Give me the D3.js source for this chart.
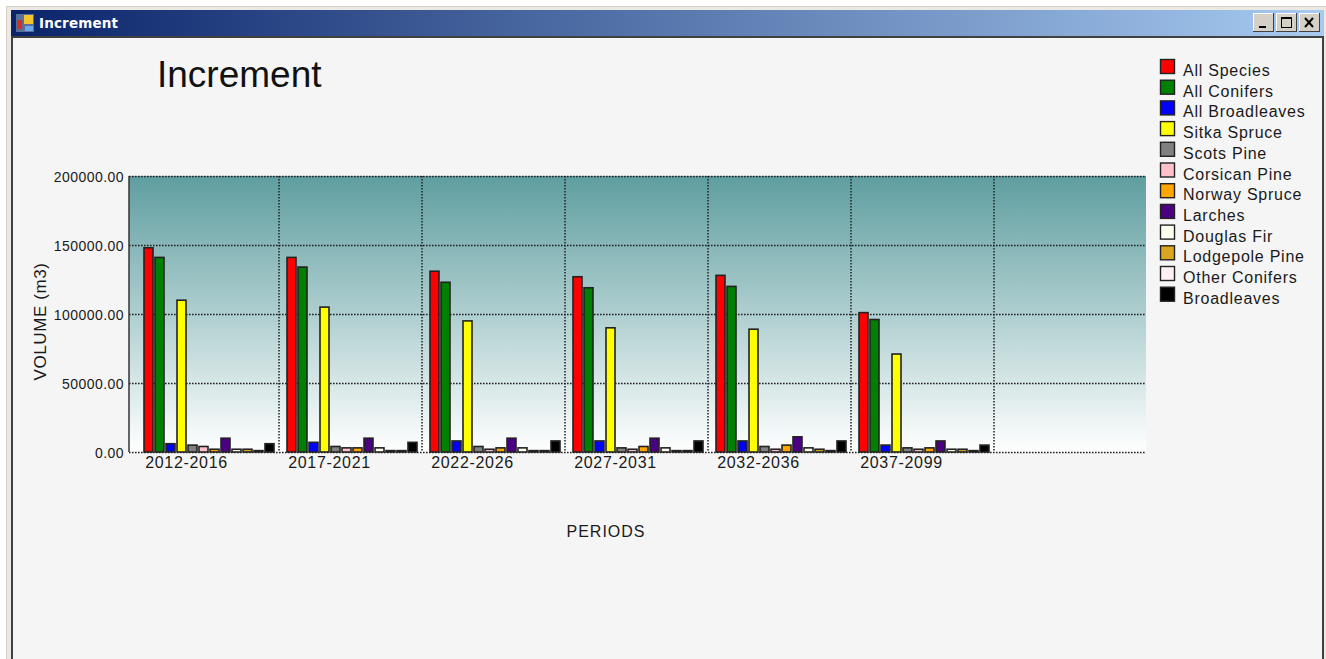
<!DOCTYPE html>
<html><head><meta charset="utf-8">
<script src="https://cdn.jsdelivr.net/npm/d3@7/dist/d3.min.js"></script>
<style>html,body{margin:0;padding:0;background:#fff;overflow:hidden}svg{display:block}
text{font-family:"Liberation Sans",Arial,sans-serif;fill:#1a1a1a}</style></head>
<body><svg id="c" width="1326" height="659"></svg>
<script>
const periods=["2012-2016","2017-2021","2022-2026","2027-2031","2032-2036","2037-2099"];
const speciesNames=["All Species","All Conifers","All Broadleaves","Sitka Spruce","Scots Pine","Corsican Pine","Norway Spruce","Larches","Douglas Fir","Lodgepole Pine","Other Conifers","Broadleaves"];
const speciesColors=["#ff0000","#008000","#0000ff","#ffff00","#808080","#ffc0cb","#ffa500","#4b0082","#fffff0","#daa520","#fff0f5","#000000"];
const vol2012=[148000,141000,6000,110000,5000,4000,2000,10000,2000,2000,1000,6000];
const vol2017=[141000,134000,7000,105000,4000,3000,3000,10000,3000,1000,1000,7000];
const vol2022=[131000,123000,8000,95000,4000,2000,3000,10000,3000,1000,1000,8000];
const vol2027=[127000,119000,8000,90000,3000,2000,4000,10000,3000,1000,1000,8000];
const vol2032=[128000,120000,8000,89000,4000,2000,5000,11000,3000,2000,1000,8000];
const vol2037=[101000,96000,5000,71000,3000,2000,3000,8000,2000,2000,1000,5000];
const volumes=[vol2012,vol2017,vol2022,vol2027,vol2032,vol2037];
const yTicks=[0,50000,100000,150000,200000];

const svg=d3.select("#c");
const defs=svg.append("defs");
const tg=defs.append("linearGradient").attr("id","tbar");
tg.append("stop").attr("offset","0").attr("stop-color","#0a246a");
tg.append("stop").attr("offset","1").attr("stop-color","#a6caf0");
const pg=defs.append("linearGradient").attr("id","plotg").attr("x1",0).attr("x2",0).attr("y1",0).attr("y2",1);
pg.append("stop").attr("offset","0").attr("stop-color","#5f9ea0");
pg.append("stop").attr("offset","1").attr("stop-color","#ffffff");

// window frame
svg.append("rect").attr("x",6).attr("y",6).attr("width",1320).attr("height",653).attr("fill","#d4d0c8");
svg.append("rect").attr("x",7).attr("y",7).attr("width",1319).attr("height",652).attr("fill","#ece9e2");
svg.append("rect").attr("x",11).attr("y",10).attr("width",1313).attr("height",26).attr("fill","url(#tbar)");
svg.append("rect").attr("x",11).attr("y",36).attr("width",1313).attr("height",623).attr("fill","#404040");
svg.append("rect").attr("x",13).attr("y",38).attr("width",1309).attr("height",621).attr("fill","#f5f5f5");
// window icon
const ic=svg.append("g");
ic.append("rect").attr("x",16).attr("y",14).attr("width",18).attr("height",18).attr("fill","#5a6f9a");
ic.append("rect").attr("x",24).attr("y",15).attr("width",9).attr("height",9).attr("fill","#f4c430");
ic.append("rect").attr("x",17).attr("y",20).attr("width",5).attr("height",9).attr("fill","#d03028");
ic.append("rect").attr("x",25).attr("y",26).attr("width",8).attr("height",5).attr("fill","#6aa8e8");
svg.append("text").attr("x",39).attr("y",28).text("Increment")
  .style("font-family","'DejaVu Sans',sans-serif").style("font-weight","bold").style("font-size","13.5px").style("letter-spacing","0.15px").style("fill","#fff");
// window buttons
[[1253,"min"],[1276,"max"],[1299,"close"]].forEach(([bx,k])=>{
  const g=svg.append("g").attr("transform",`translate(${bx},13)`);
  g.append("rect").attr("width",21).attr("height",19).attr("fill","#404040");
  g.append("rect").attr("width",20).attr("height",18).attr("fill","#fff");
  g.append("rect").attr("x",1).attr("y",1).attr("width",19).attr("height",17).attr("fill","#d4d0c8");
  if(k==="min")g.append("rect").attr("x",6).attr("y",13).attr("width",7).attr("height",2).attr("fill","#000");
  if(k==="max")g.append("rect").attr("x",5.5).attr("y",4.5).attr("width",10).attr("height",10).attr("fill","none").attr("stroke","#000").attr("stroke-width",1);
  if(k==="max")g.append("rect").attr("x",5).attr("y",4).attr("width",11).attr("height",2).attr("fill","#000");
  if(k==="close")g.append("path").attr("d","M6,5L14,14M14,5L6,14").attr("stroke","#000").attr("stroke-width",2);
});

// scales
const left=129,right=1146,top0=176,bottom=452;
const y=d3.scaleLinear().domain([0,200000]).range([bottom,top0]);
const x=d3.scaleLinear().domain([0,7]).range([136,1137]);
const inner=d3.scaleBand().domain(d3.range(speciesNames.length)).range([7,139]);

svg.append("rect").attr("x",left).attr("y",top0).attr("width",right-left).attr("height",bottom-top0).attr("fill","url(#plotg)");
const grid=svg.append("g").attr("stroke","#222").attr("stroke-width",1.5).attr("stroke-dasharray","1.6,1.4").attr("fill","none");
yTicks.forEach(t=>grid.append("line").attr("x1",left).attr("x2",right).attr("y1",y(t)+.5).attr("y2",y(t)+.5));
d3.range(1,7).forEach(i=>grid.append("line").attr("x1",x(i)).attr("x2",x(i)).attr("y1",top0).attr("y2",bottom));
svg.append("line").attr("x1",left).attr("x2",left).attr("y1",top0).attr("y2",bottom).attr("stroke","#333").attr("stroke-width",1.5);

// y tick labels
svg.append("g").selectAll("text").data(yTicks).join("text")
  .attr("x",124).attr("y",d=>y(d)+5.5).attr("text-anchor","end").style("font-size","14px").style("letter-spacing","0.45px")
  .text(d=>d3.format(".2f")(d));
// bars
const groups=svg.append("g").selectAll("g").data(volumes).join("g")
  .attr("transform",(d,i)=>`translate(${x(i)},0)`);
groups.selectAll("rect").data(d=>d).join("rect")
  .attr("x",(d,j)=>inner(j)+1).attr("width",inner.bandwidth()-2)
  .attr("y",d=>y(d)).attr("height",d=>bottom-y(d))
  .attr("fill",(d,j)=>speciesColors[j]).attr("stroke","#222").attr("stroke-width",1.6);
// x labels
svg.append("g").selectAll("text").data(periods).join("text")
  .attr("x",(d,i)=>x(i)+50.5).attr("y",468).attr("text-anchor","middle").style("font-size","16px").style("letter-spacing","0.67px").text(d=>d);
// titles
svg.append("text").attr("x",157).attr("y",87).style("font-size","37px").style("fill","#111").text("Increment");
svg.append("text").attr("x",606).attr("y",537).attr("text-anchor","middle").style("font-size","16px").style("letter-spacing","1px").text("PERIODS");
svg.append("text").attr("transform","translate(46,321.5) rotate(-90)").attr("text-anchor","middle").style("font-size","17px").style("letter-spacing","0.6px").text("VOLUME (m3)");
// legend
const lg=svg.append("g").selectAll("g").data(speciesNames).join("g")
  .attr("transform",(d,i)=>`translate(1160,${59+i*20.7})`);
lg.append("rect").attr("x",.5).attr("y",.5).attr("width",14).attr("height",14)
  .attr("fill",(d,i)=>speciesColors[i]).attr("stroke","#222").attr("stroke-width",1.4);
lg.append("text").attr("x",23).attr("y",17).style("font-size","16px").style("letter-spacing","0.75px").text(d=>d);
</script></body></html>
